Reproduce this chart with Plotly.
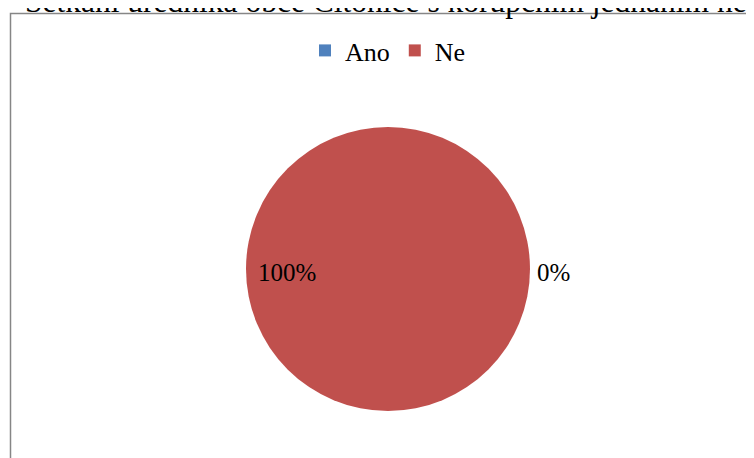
import plotly.graph_objects as go

categories = ["Ano", "Ne"]
values = [0, 100]
colors = ["#4F81BD", "#C0504D"]
title_text = "Setkání úředníka obce Citonice s korupčním jednáním nebo úplatkářstvím"

W, H = 754, 458
OFF = 8  # page body margin
total = sum(values)
pcts = [f"{round(v / total * 100)}%" for v in values]

def px(x):
    return (x - OFF) / W

def py(y):
    return 1 - (y - OFF) / H

SERIF = "Liberation Serif, Times New Roman, serif"

fig = go.Figure()
fig.add_trace(go.Pie(
    labels=categories,
    values=values,
    marker=dict(colors=colors, line=dict(width=0)),
    textinfo="none",
    hoverinfo="label+percent",
    sort=False,
    direction="clockwise",
    rotation=0,
    domain=dict(x=[px(246), px(530)], y=[py(411), py(127)]),
    showlegend=True,
))

# data labels (Excel-style positions)
fig.add_annotation(x=px(287), y=py(272), xref="paper", yref="paper",
                   xanchor="center", yanchor="middle",
                   text=pcts[1], showarrow=False,
                   font=dict(family=SERIF, size=25, color="#000"))
fig.add_annotation(x=px(553.5), y=py(272), xref="paper", yref="paper",
                   xanchor="center", yanchor="middle",
                   text=pcts[0], showarrow=False,
                   font=dict(family=SERIF, size=25, color="#000"))

# clipped title
fig.add_annotation(x=px(23), y=py(21.5), xref="paper", yref="paper",
                   xanchor="left", yanchor="bottom",
                   text=title_text, showarrow=False,
                   font=dict(family=SERIF, size=31.5, color="#000"))

# chart area border
fig.add_shape(type="rect", xref="paper", yref="paper",
              x0=px(10.5), x1=1.05, y0=-0.05, y1=py(13.5),
              line=dict(color="#868686", width=1.5), fillcolor="rgba(0,0,0,0)", layer="below")

fig.update_layout(
    width=W, height=H,
    margin=dict(l=0, r=0, t=0, b=0),
    paper_bgcolor="white",
    plot_bgcolor="white",
    font=dict(family=SERIF, color="#000"),
    legend=dict(orientation="h", x=px(305), xanchor="left", y=py(27), yanchor="top",
                font=dict(family=SERIF, size=26, color="#000"),
                itemwidth=30, traceorder="normal"),
)

fig.write_html("out.html")
